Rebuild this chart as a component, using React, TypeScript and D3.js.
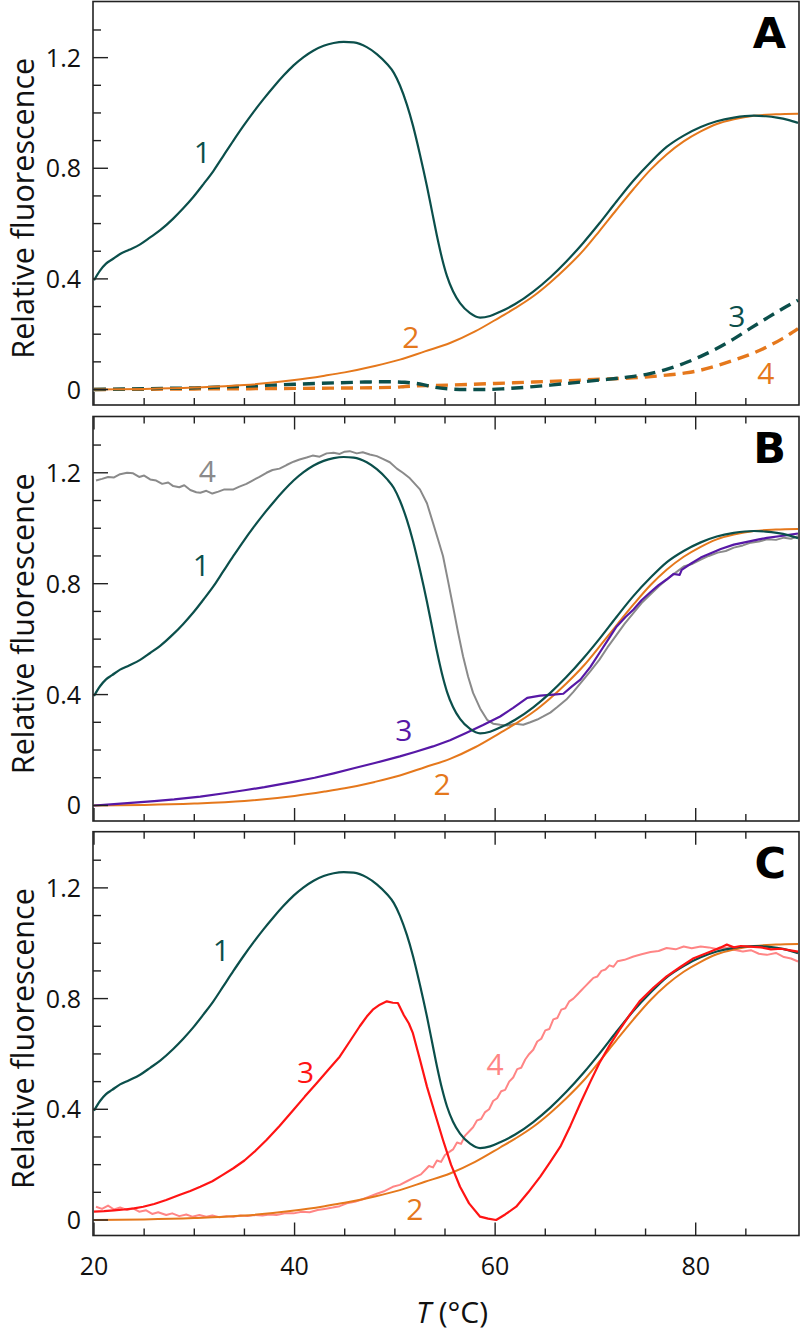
import React from "react";
import * as d3 from "d3";

// ---------- data (T in °C, relative fluorescence) ----------
const c1T = [20.0,20.6,21.2,21.8,22.6,23.5,24.6,25.6,26.6,27.9,28.9,29.9,30.9,31.9,32.9,33.9,34.9,35.9,36.9,37.9,38.9,39.9,40.9,41.9,42.9,43.9,44.9,45.9,47.2,48.2,49.2,49.9,50.5,51.2,51.8,52.5,53.2,53.7,54.2,54.7,55.2,55.8,56.5,57.5,58.5,59.5,60.5,62.0,63.8,65.5,67.1,68.8,70.4,72.1,73.8,75.5,77.1,78.8,80.5,82.1,83.8,85.8,87.0,88.1,89.2,90.2];
const c1V = [0.395,0.43,0.455,0.47,0.49,0.505,0.525,0.55,0.576,0.618,0.655,0.696,0.742,0.79,0.845,0.9,0.953,1.003,1.05,1.094,1.135,1.172,1.202,1.226,1.243,1.253,1.257,1.255,1.238,1.213,1.178,1.145,1.1,1.03,0.955,0.85,0.735,0.645,0.555,0.475,0.41,0.355,0.312,0.276,0.26,0.266,0.281,0.309,0.354,0.406,0.463,0.531,0.601,0.68,0.756,0.822,0.877,0.918,0.949,0.97,0.983,0.99,0.988,0.983,0.975,0.964];

const c2T = [20,25,30,35,40,43,45,48,50.5,53,55.5,58,60.5,62,63.8,65.5,67.1,68.8,70.4,72.1,73.8,75.5,77.1,78.8,80.5,82.1,83.8,85.8,88,90.2];
const c2V = [0.0,0.002,0.007,0.016,0.034,0.05,0.062,0.085,0.108,0.138,0.168,0.21,0.262,0.294,0.337,0.387,0.44,0.503,0.573,0.65,0.725,0.795,0.85,0.897,0.933,0.96,0.977,0.99,0.995,0.997];

const a3T = [20,25,30,35,40,44,47,49,51,52.5,54,55.5,57,59,61,63,65.5,68,70.4,73,75.1,77,78.8,80.5,82.1,83.8,85.4,87,88.7,90.2];
const a3V = [0.0,0.003,0.006,0.012,0.019,0.024,0.027,0.028,0.026,0.02,0.008,0.002,0.0,0.0,0.003,0.008,0.016,0.025,0.034,0.044,0.055,0.072,0.094,0.12,0.148,0.183,0.22,0.256,0.293,0.323];

const a4T = [20,30,40,50,51,55.5,60,63.8,70.4,75,77.1,79,80.5,82,83.8,85.5,87.1,88.7,90.2];
const a4V = [0.0,0.002,0.004,0.008,0.011,0.016,0.022,0.027,0.037,0.045,0.052,0.06,0.07,0.085,0.106,0.128,0.154,0.185,0.22];

const b4T = [20.2,20.8,21.4,22.0,22.6,23.3,23.9,24.5,25.0,25.6,26.2,26.8,27.4,27.9,28.5,29.0,29.6,30.2,30.6,31.2,31.8,32.4,33.0,33.9,34.5,35.2,35.8,36.5,37.2,37.8,38.5,39.2,39.9,40.5,41.2,41.8,42.5,43.2,43.9,44.5,45.0,45.5,46.2,46.8,47.5,48.2,48.8,49.5,50.2,50.8,51.5,52.0,52.5,53.2,53.8,54.3,54.8,55.3,55.8,56.3,56.8,57.3,57.8,58.5,59.2,59.8,60.5,61.2,62.0,62.8,63.5,64.2,64.8,65.5,66.2,67.1,67.8,68.6,69.5,70.4,71.2,72.0,72.9,73.8,74.6,75.5,76.3,77.1,78.0,78.8,79.7,80.5,81.3,82.2,83.0,83.8,84.7,85.5,86.3,87.1,88.0,88.8,89.5,90.2];
const b4V = [1.172,1.178,1.185,1.183,1.195,1.2,1.198,1.185,1.19,1.176,1.172,1.16,1.165,1.152,1.148,1.155,1.138,1.13,1.128,1.135,1.125,1.132,1.14,1.14,1.15,1.16,1.172,1.185,1.2,1.21,1.215,1.228,1.24,1.248,1.255,1.262,1.258,1.27,1.272,1.268,1.276,1.278,1.27,1.274,1.266,1.26,1.25,1.238,1.215,1.2,1.18,1.16,1.14,1.09,1.02,0.96,0.9,0.81,0.718,0.625,0.538,0.465,0.406,0.35,0.309,0.295,0.291,0.288,0.295,0.291,0.3,0.31,0.321,0.335,0.355,0.382,0.41,0.445,0.485,0.526,0.57,0.61,0.655,0.695,0.73,0.762,0.79,0.815,0.84,0.862,0.872,0.887,0.9,0.912,0.918,0.93,0.938,0.948,0.952,0.96,0.958,0.966,0.962,0.971];

const b3T = [20,22,24,26,28,30.6,33,35,37,39.9,42,43.9,46,48,50.5,52,53.8,55.5,57.1,58.8,60.5,61.8,63.2,64.5,65.8,66.8,67.6,68.5,69.5,70.4,71.3,72.1,73.0,73.8,74.6,75.5,76.3,77.1,77.8,78.4,78.6,79.5,80.5,81.5,82.5,83.8,85,86.3,87.1,88.5,89.3,90.2];
const b3V = [0.0,0.005,0.01,0.016,0.022,0.032,0.044,0.055,0.066,0.085,0.1,0.116,0.135,0.153,0.177,0.193,0.213,0.235,0.261,0.29,0.321,0.352,0.388,0.396,0.4,0.403,0.428,0.454,0.5,0.55,0.6,0.645,0.68,0.707,0.74,0.77,0.795,0.815,0.835,0.832,0.85,0.872,0.894,0.91,0.925,0.941,0.95,0.96,0.965,0.972,0.976,0.981];

const c3T = [20,21,22,23,24,24.9,26,27.2,28.5,29.6,30.6,31.8,32.8,33.9,35,36.1,37.2,38.5,39.9,41,42.2,43.3,44.5,45.5,46.5,47.2,47.8,48.5,49.2,49.8,50.3,50.9,51.4,51.8,52.5,53.2,54.0,54.8,55.6,56.5,57.4,58.5,59.3,60.1,61.0,62.1,63.3,64.5,65.5,66.5,67.5,68.5,69.5,70.4,71.4,72.4,73.4,74.4,75.8,77.1,78.5,79.8,81.5,82.5,83.1,83.8,84.5,85.4,86.5,87.5,88.5,89.3,90.2];
const c3V = [0.03,0.032,0.035,0.038,0.042,0.048,0.058,0.072,0.09,0.105,0.12,0.14,0.162,0.187,0.215,0.25,0.289,0.34,0.398,0.445,0.494,0.54,0.59,0.645,0.7,0.735,0.76,0.778,0.79,0.785,0.784,0.74,0.71,0.675,0.58,0.482,0.385,0.289,0.2,0.12,0.06,0.012,0.005,0.0,0.02,0.048,0.1,0.157,0.21,0.265,0.34,0.422,0.5,0.567,0.63,0.687,0.74,0.79,0.84,0.88,0.915,0.946,0.97,0.985,0.995,0.985,0.99,0.988,0.985,0.978,0.98,0.975,0.97];

const c4T = [20.2,20.8,21.4,22.0,22.6,23.3,23.9,24.5,25.2,25.8,26.4,27.2,27.8,28.5,29.2,29.8,30.5,31.2,31.8,32.5,33.2,33.9,34.6,35.3,36.0,36.8,37.5,38.2,39.0,39.9,40.7,41.5,42.3,43.0,43.8,44.5,45.2,46.0,46.8,47.5,48.2,49.0,49.8,50.5,51.2,52.0,52.6,53.0,53.4,53.8,54.2,54.6,55.0,55.4,55.8,56.2,56.6,57.0,57.4,57.8,58.2,58.6,59.0,59.4,59.8,60.2,60.6,61.0,61.4,61.8,62.2,62.6,63.0,63.4,63.8,64.2,64.6,65.0,65.4,65.8,66.2,66.6,67.0,67.4,67.8,68.2,68.6,69.0,69.4,69.8,70.2,70.6,71.0,71.4,71.8,72.2,72.9,73.8,74.6,75.5,76.3,77.1,78.0,78.8,79.6,80.5,81.3,82.2,83.0,83.8,84.7,85.5,86.3,87.1,88.0,88.8,89.5,90.2];
const c4V = [0.048,0.04,0.052,0.038,0.045,0.036,0.042,0.03,0.035,0.022,0.028,0.018,0.024,0.014,0.02,0.012,0.018,0.012,0.016,0.01,0.014,0.012,0.016,0.014,0.018,0.016,0.02,0.018,0.024,0.024,0.03,0.028,0.036,0.04,0.045,0.05,0.06,0.066,0.075,0.085,0.095,0.105,0.12,0.127,0.14,0.155,0.165,0.18,0.195,0.19,0.215,0.21,0.235,0.245,0.255,0.28,0.275,0.305,0.32,0.335,0.36,0.365,0.39,0.4,0.43,0.44,0.465,0.47,0.5,0.515,0.545,0.55,0.58,0.6,0.615,0.645,0.655,0.685,0.69,0.725,0.73,0.76,0.765,0.79,0.8,0.815,0.83,0.845,0.86,0.875,0.88,0.9,0.905,0.92,0.915,0.935,0.94,0.952,0.96,0.968,0.972,0.983,0.978,0.988,0.982,0.988,0.985,0.978,0.985,0.976,0.97,0.975,0.962,0.958,0.965,0.95,0.945,0.934];

const xMajor = [20, 40, 60, 80];
const xMinor = [25, 30, 35, 45, 50, 55, 65, 70, 75, 85];
const yMajor = [0, 0.4, 0.8, 1.2];
const yMinor = [0.1, 0.2, 0.3, 0.5, 0.6, 0.7, 0.9, 1.0, 1.1, 1.3];

const TEAL = "#0b4f4b";
const ORANGE = "#e5781c";
const PURPLE = "#5718a6";
const GRAY = "#8a8a8a";
const RED = "#ff1414";
const PINK = "#ff8585";

const FONT = "'Open Sans', 'Noto Sans', sans-serif";

type Series = { T: number[]; V: number[]; color: string; dash?: string; width?: number; smooth?: boolean };
type Lab = { text: string; x: number; y: number; color: string }; // x in °C, y in value

const x = d3.scaleLinear().domain([19.9, 90.3]).range([93, 799]);
const X0 = 93, X1 = 799;

function Panel({ top, bottom, series, labels, letter, topTicks }: { top: number; bottom: number; series: Series[]; labels: Lab[]; letter: string; topTicks: boolean }) {
  const y = d3.scaleLinear().domain([-0.056, 1.403]).range([bottom, top]);
  const clipId = "clip" + letter;
  const mk = (s: Series) => {
    const gen = d3.line<number>().x((_, i) => x(s.T[i])).y((v) => y(v)).curve(s.smooth ? d3.curveMonotoneX : d3.curveLinear);
    return gen(s.V) || "";
  };
  const cy = (top + bottom) / 2 + 5;
  return (
    <g>
      <defs>
        <clipPath id={clipId}><rect x={X0} y={top} width={X1 - X0} height={bottom - top} /></clipPath>
      </defs>
      <g clipPath={`url(#${clipId})`}>
        {series.map((s, i) => (
          <path key={i} d={mk(s)} fill="none" stroke={s.color} strokeWidth={s.width ?? 2.2} strokeDasharray={s.dash} strokeLinejoin="round" />
        ))}
      </g>
      {yMajor.map((v) => (
        <g key={"ym" + v}>
          <line x1={X0} x2={X0 + 15} y1={y(v)} y2={y(v)} stroke="#222" strokeWidth={1.4} />
          <text x={81} y={y(v) + 9} textAnchor="end" fontSize={25} fontFamily={FONT} fill="#111">{v === 0 ? "0" : v.toFixed(1)}</text>
        </g>
      ))}
      {yMinor.map((v) => (
        <line key={"yn" + v} x1={X0} x2={X0 + 8} y1={y(v)} y2={y(v)} stroke="#222" strokeWidth={1.4} />
      ))}
      {xMajor.map((t) => <line key={"xb" + t} x1={x(t)} x2={x(t)} y1={bottom} y2={bottom - 13} stroke="#222" strokeWidth={1.4} />)}
      {xMinor.map((t) => <line key={"xbn" + t} x1={x(t)} x2={x(t)} y1={bottom} y2={bottom - 7} stroke="#222" strokeWidth={1.4} />)}
      {topTicks && xMajor.map((t) => <line key={"xt" + t} x1={x(t)} x2={x(t)} y1={top} y2={top + 13} stroke="#222" strokeWidth={1.4} />)}
      {topTicks && xMinor.map((t) => <line key={"xtn" + t} x1={x(t)} x2={x(t)} y1={top} y2={top + 7} stroke="#222" strokeWidth={1.4} />)}
      <rect x={X0} y={top} width={X1 - X0} height={bottom - top} fill="none" stroke="#222" strokeWidth={1.6} />
      {labels.map((l, i) => (
        <text key={i} x={x(l.x)} y={y(l.y)} textAnchor="middle" fontSize={30} fontFamily={FONT} fill={l.color}>{l.text}</text>
      ))}
      <text x={786} y={top + 46} textAnchor="end" fontSize={43} fontWeight="bold" fontFamily="'DejaVu Sans', sans-serif" fill="#000">{letter}</text>
      <text transform={`translate(34,${cy}) rotate(-90)`} textAnchor="middle" fontSize={30.5} fontFamily={FONT} fill="#111">Relative fluorescence</text>
    </g>
  );
}

export default function App() {
  const s1: Series = { T: c1T, V: c1V, color: TEAL, smooth: true };
  const s2: Series = { T: c2T, V: c2V, color: ORANGE, smooth: true, width: 2 };
  const panelA: Series[] = [
    { T: a4T, V: a4V, color: ORANGE, dash: "12,7", width: 3.4, smooth: true },
    { T: a3T, V: a3V, color: TEAL, dash: "12,7", width: 3.4, smooth: true },
    s2, s1,
  ];
  const panelB: Series[] = [
    { T: b4T, V: b4V, color: GRAY, width: 2 },
    s2,
    { T: b3T, V: b3V, color: PURPLE, width: 2.2 },
    s1,
  ];
  const panelC: Series[] = [
    { T: c4T, V: c4V, color: PINK, width: 2 },
    s2, s1,
    { T: c3T, V: c3V, color: RED, width: 2.2 },
  ];
  return (
    <svg width={800} height={1331} style={{ position: "absolute", left: 0, top: 0, background: "#fff" }}>
      <rect width={800} height={1331} fill="#fff" />
      <Panel top={1.5} bottom={405} series={panelA} letter="A" topTicks={false}
        labels={[
          { text: "1", x: 30.8, y: 0.82, color: TEAL },
          { text: "2", x: 51.6, y: 0.15, color: ORANGE },
          { text: "3", x: 84.1, y: 0.225, color: TEAL },
          { text: "4", x: 87.0, y: 0.02, color: ORANGE },
        ]} />
      <Panel top={416.5} bottom={821} series={panelB} letter="B" topTicks={true}
        labels={[
          { text: "4", x: 31.3, y: 1.165, color: GRAY },
          { text: "1", x: 30.7, y: 0.826, color: TEAL },
          { text: "3", x: 50.9, y: 0.231, color: PURPLE },
          { text: "2", x: 54.7, y: 0.038, color: ORANGE },
        ]} />
      <Panel top={831.7} bottom={1235.5} series={panelC} letter="C" topTicks={true}
        labels={[
          { text: "1", x: 32.7, y: 0.937, color: TEAL },
          { text: "3", x: 41.1, y: 0.495, color: RED },
          { text: "4", x: 60.0, y: 0.524, color: PINK },
          { text: "2", x: 52.0, y: 0.0, color: ORANGE },
        ]} />
      {xMajor.map((t) => (
        <text key={"xl" + t} x={x(t)} y={1275} textAnchor="middle" fontSize={25} fontFamily={FONT} fill="#111">{t}</text>
      ))}
      <text x={452} y={1323} textAnchor="middle" fontSize={30} fontFamily={FONT} fill="#111">
        <tspan fontStyle="italic">T</tspan> (°C)
      </text>
    </svg>
  );
}
